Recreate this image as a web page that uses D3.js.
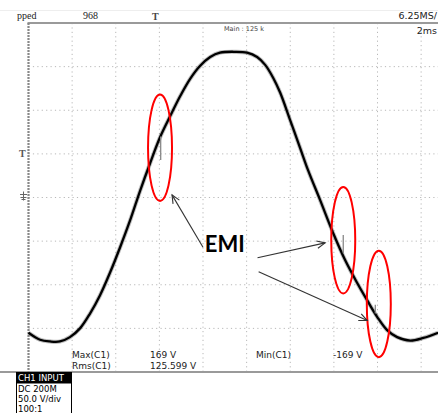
<!DOCTYPE html>
<html>
<head>
<meta charset="utf-8">
<script src="https://cdn.jsdelivr.net/npm/d3@7"></script>
<style>
  body { margin: 0; background: #fff; }
  svg { display: block; }
</style>
</head>
<body>
<script>
// waveform: time in ms, voltage in V
var timeMs = [0, 0.53, 0.99, 1.44, 1.90, 2.36, 2.82, 3.28, 3.74, 4.20, 4.66, 5.12, 5.57, 6.03, 6.49,
  6.95, 7.41, 7.87, 8.33, 8.78, 9.47, 10.02, 10.48, 10.85, 11.22, 11.54, 11.99, 12.45, 12.82, 13.37,
  13.97, 14.52, 15.07, 15.53, 15.99, 16.44, 16.90, 17.50, 18.10, 18.78];
var voltsV = [-155, -163, -165, -165, -160, -150, -133, -112, -86, -57, -26, 8, 39, 69, 93,
  116, 136, 151, 161, 166, 167, 166, 161, 152, 137, 120, 89, 57, 31, -3,
  -41, -72, -98, -118, -137, -152, -160, -164, -161, -155];

// grey EMI spikes on the trace
var emiT = [6.06, 14.43, 15.9];
var emiTop = [70, -43, -123];
var emiBottom = [43, -64, -133];

// red ellipses round the spikes
var ringT = [6.03, 14.43, 16.06];
var ringV = [57, -49, -122];
var ringDt = 0.55, ringDv = 61;

// arrow heads pointing to the rings
var arrowT = [6.58, 13.6, 15.53];
var arrowV = [3, -52, -141];
var arrowFromT = [8.0, 10.5, 10.55];
var arrowFromV = [-57, -69, -85];

var xTicks = d3.range(0, 22, 2);      // 2 ms/div
var yTicks = d3.range(-200, 250, 50); // 50 V/div

var w = 438, h = 413;
var padLeft = 28.5, padTop = 23, padBottom = 372;
var div = (padBottom - padTop) / 8;

var x = d3.scaleLinear().domain([0, 20]).range([padLeft, padLeft + div * 10]);
var y = d3.scaleLinear().domain([-200, 200]).range([padBottom, padTop]);

var svg = d3.select("body").append("svg")
  .attr("width", w)
  .attr("height", h);

//dotted grid
svg.selectAll(".vgrid")
  .data(xTicks.slice(1))
  .enter().append("line")
  .attr("x1", function(d) { return x(d); })
  .attr("x2", function(d) { return x(d); })
  .attr("y1", padTop).attr("y2", padBottom)
  .attr("stroke", "#b8b8b8")
  .attr("stroke-width", 1)
  .attr("stroke-dasharray", "1.2,3.2");
svg.selectAll(".hgrid")
  .data(yTicks.slice(1, -1))
  .enter().append("line")
  .attr("x1", padLeft).attr("x2", w)
  .attr("y1", function(d) { return y(d); })
  .attr("y2", function(d) { return y(d); })
  .attr("stroke", "#b8b8b8")
  .attr("stroke-width", 1)
  .attr("stroke-dasharray", "1.2,3.2");

// frame
svg.append("line").attr("x1", 0).attr("x2", w).attr("y1", 10.5).attr("y2", 10.5)
  .attr("stroke", "#eeeeee").attr("stroke-width", 1);
svg.append("line").attr("x1", padLeft - 1).attr("x2", w).attr("y1", padTop).attr("y2", padTop)
  .attr("stroke", "#9a9a9a").attr("stroke-width", 2);
svg.append("line").attr("x1", 0).attr("x2", w).attr("y1", padBottom).attr("y2", padBottom)
  .attr("stroke", "#9a9a9a").attr("stroke-width", 2);
svg.append("line").attr("x1", padLeft).attr("x2", padLeft).attr("y1", padTop).attr("y2", padBottom)
  .attr("stroke", "#888").attr("stroke-width", 2.2)
  .attr("stroke-dasharray", "2,1");

// the trace
var pts = timeMs.map(function(t, i) { return [t, voltsV[i]]; });
var line = d3.line()
  .x(function(d) { return x(d[0]); })
  .y(function(d) { return y(d[1]); })
  .curve(d3.curveCatmullRom);
svg.append("path")
  .datum(pts)
  .attr("fill", "none")
  .attr("stroke", "#000")
  .attr("stroke-opacity", 0.25)
  .attr("stroke-width", 4.2)
  .attr("d", line);
svg.append("path")
  .datum(pts)
  .attr("fill", "none")
  .attr("stroke", "#000")
  .attr("stroke-width", 2.3)
  .attr("d", line);

svg.selectAll(".emi")
  .data(emiT)
  .enter().append("line")
  .attr("x1", function(d) { return x(d); })
  .attr("x2", function(d) { return x(d); })
  .attr("y1", function(d, i) { return y(emiTop[i]); })
  .attr("y2", function(d, i) { return y(emiBottom[i]); })
  .attr("stroke", "#888")
  .attr("stroke-width", 1.3);

// markers on the left edge
svg.append("text").attr("x", 19).attr("y", y(50) + 3)
  .style("font-family", "Liberation Serif").style("font-size", "10px").style("font-weight", "bold")
  .attr("fill", "#555").text("T");
var gnd = svg.append("g").attr("transform", "translate(20," + y(0) + ")").attr("stroke", "#666").attr("stroke-width", 1);
gnd.append("line").attr("x1", 0).attr("x2", 7).attr("y1", -3).attr("y2", -3);
gnd.append("line").attr("x1", 3.5).attr("x2", 3.5).attr("y1", -6).attr("y2", 3);
gnd.append("line").attr("x1", 0.5).attr("x2", 6.5).attr("y1", 0).attr("y2", 0);
gnd.append("line").attr("x1", 1.5).attr("x2", 5.5).attr("y1", 2).attr("y2", 2);

// header
function txt(tx, ty, s, size, fam, anchor) {
  return svg.append("text").attr("x", tx).attr("y", ty)
    .attr("text-anchor", anchor || "start")
    .style("font-family", fam).style("font-size", size + "px")
    .attr("fill", "#222").text(s);
}
txt(17, 19, "pped", 10, "Liberation Serif");
txt(83, 19, "968", 10, "Liberation Serif");
txt(152, 20, "T", 10, "Liberation Serif").style("font-weight", "bold").attr("fill", "#444");
txt(224, 31, "Main : 125 k", 6.5, "DejaVu Sans").attr("fill", "#444");
txt(437, 19, "6.25MS/", 9.5, "DejaVu Sans", "end");
txt(437, 34, "2ms", 9.5, "DejaVu Sans", "end");

// measurements
txt(72, 358, "Max(C1)", 9, "DejaVu Sans");
txt(150, 358, "169 V", 9, "DejaVu Sans");
txt(256, 358, "Min(C1)", 9, "DejaVu Sans");
txt(333, 358, "-169 V", 9, "DejaVu Sans");
txt(72, 369, "Rms(C1)", 9, "DejaVu Sans");
txt(150, 369, "125.599 V", 9, "DejaVu Sans");

// channel box
svg.append("rect").attr("x", 16).attr("y", 372).attr("width", 56).attr("height", 11).attr("fill", "#000");
txt(18, 381, "CH1  INPUT", 8.5, "DejaVu Sans").attr("fill", "#fff");
svg.append("rect").attr("x", 16.5).attr("y", 383).attr("width", 55).attr("height", 35)
  .attr("fill", "none").attr("stroke", "#000").attr("stroke-width", 1);
txt(18, 392, "DC 200M", 8.5, "DejaVu Sans").attr("fill", "#000");
txt(18, 402, "50.0 V/div", 8.5, "DejaVu Sans").attr("fill", "#000");
txt(18, 412, "100:1", 8.5, "DejaVu Sans").attr("fill", "#000");

// annotations
svg.selectAll(".ring")
  .data(ringT)
  .enter().append("ellipse")
  .attr("cx", function(d) { return x(d); })
  .attr("cy", function(d, i) { return y(ringV[i]); })
  .attr("rx", x(ringDt) - x(0))
  .attr("ry", y(0) - y(ringDv))
  .attr("fill", "none")
  .attr("stroke", "#ff0000")
  .attr("stroke-width", 2);

svg.selectAll(".arrow")
  .data(arrowT)
  .enter().append("g")
  .each(function(d, i) {
    var x1 = x(arrowFromT[i]), y1 = y(arrowFromV[i]);
    var x2 = x(d), y2 = y(arrowV[i]);
    var a = Math.atan2(y2 - y1, x2 - x1);
    var g = d3.select(this).attr("stroke", "#333").attr("stroke-width", 1.1).attr("fill", "none");
    g.append("line").attr("x1", x1).attr("y1", y1).attr("x2", x2).attr("y2", y2);
    var hl = 9, ha = 0.42;
    g.append("path").attr("d",
      "M" + (x2 - hl * Math.cos(a - ha)) + "," + (y2 - hl * Math.sin(a - ha)) +
      "L" + x2 + "," + y2 +
      "L" + (x2 - hl * Math.cos(a + ha)) + "," + (y2 - hl * Math.sin(a + ha)));
  });

svg.append("text")
  .attr("x", x(9.0))
  .attr("y", y(-63))
  .attr("text-anchor", "middle")
  .style("font-family", "Lato")
  .style("font-weight", "bold")
  .style("font-size", "22px")
  .attr("fill", "#000")
  .text("EMI");
</script>
</body>
</html>
